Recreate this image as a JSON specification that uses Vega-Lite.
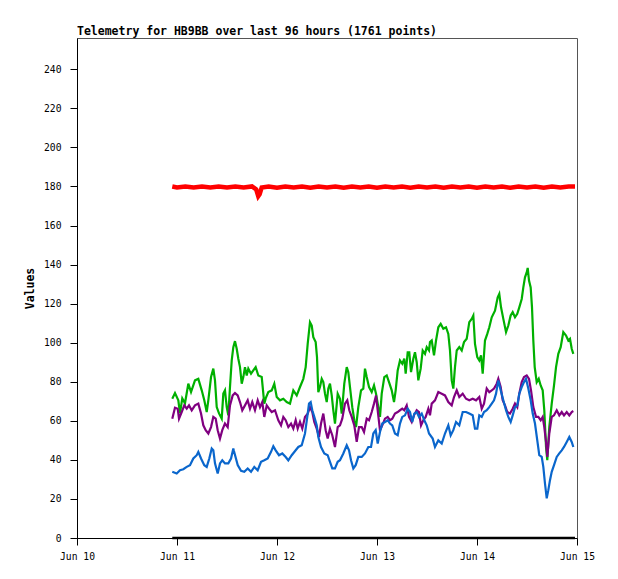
{
  "$schema": "https://vega.github.io/schema/vega-lite/v6.json",
  "title": {
    "text": "Telemetry for HB9BB over last 96 hours (1761 points)",
    "anchor": "start",
    "frame": "group",
    "font": "DejaVu Sans Mono",
    "fontSize": 11.5,
    "fontWeight": "bold",
    "color": "#000000",
    "baseline": "alphabetic",
    "offset": -8.5
  },
  "autosize": "none",
  "padding": {"left": 77, "top": 38, "right": 41, "bottom": 41},
  "width": 500,
  "height": 500,
  "background": "#ffffff",
  "config": {
    "view": {"stroke": "#555555", "strokeWidth": 1},
    "axis": {
      "labelFont": "DejaVu Sans Mono",
      "labelFontSize": 9.7,
      "labelColor": "#000000",
      "titleFont": "DejaVu Sans Mono",
      "titleFontSize": 11.5,
      "titleFontWeight": "bold",
      "titleColor": "#000000",
      "domainColor": "#000000",
      "tickColor": "#000000",
      "tickSize": 7,
      "grid": false
    }
  },
  "datasets": {
    "black": [
      {"t": "2024-06-10T22:52", "v": 0},
      {"t": "2024-06-14T23:31", "v": 0}
    ],
    "red": [
      {"t": "2024-06-10T22:52", "v": 180},
      {"t": "2024-06-11T00:00", "v": 179.5},
      {"t": "2024-06-11T02:00", "v": 180},
      {"t": "2024-06-11T04:00", "v": 179.5},
      {"t": "2024-06-11T06:00", "v": 180},
      {"t": "2024-06-11T08:00", "v": 179.5},
      {"t": "2024-06-11T10:00", "v": 180},
      {"t": "2024-06-11T12:00", "v": 179.5},
      {"t": "2024-06-11T14:00", "v": 180},
      {"t": "2024-06-11T16:00", "v": 179.5},
      {"t": "2024-06-11T18:00", "v": 180},
      {"t": "2024-06-11T19:00", "v": 178.5},
      {"t": "2024-06-11T19:30", "v": 175},
      {"t": "2024-06-11T19:50", "v": 176},
      {"t": "2024-06-11T20:20", "v": 179.5},
      {"t": "2024-06-11T22:00", "v": 180},
      {"t": "2024-06-12T00:00", "v": 179.3},
      {"t": "2024-06-12T02:00", "v": 180},
      {"t": "2024-06-12T04:00", "v": 179.5},
      {"t": "2024-06-12T06:00", "v": 180},
      {"t": "2024-06-12T08:00", "v": 179.3},
      {"t": "2024-06-12T10:00", "v": 180},
      {"t": "2024-06-12T12:00", "v": 179.5},
      {"t": "2024-06-12T14:00", "v": 180},
      {"t": "2024-06-12T16:00", "v": 179.3},
      {"t": "2024-06-12T18:00", "v": 180},
      {"t": "2024-06-12T20:00", "v": 179.5},
      {"t": "2024-06-12T22:00", "v": 180},
      {"t": "2024-06-13T00:00", "v": 179.3},
      {"t": "2024-06-13T02:00", "v": 180},
      {"t": "2024-06-13T04:00", "v": 179.5},
      {"t": "2024-06-13T06:00", "v": 180},
      {"t": "2024-06-13T08:00", "v": 179.3},
      {"t": "2024-06-13T10:00", "v": 180},
      {"t": "2024-06-13T12:00", "v": 179.5},
      {"t": "2024-06-13T14:00", "v": 180},
      {"t": "2024-06-13T16:00", "v": 179.3},
      {"t": "2024-06-13T18:00", "v": 180},
      {"t": "2024-06-13T20:00", "v": 179.5},
      {"t": "2024-06-13T22:00", "v": 180},
      {"t": "2024-06-14T00:00", "v": 179.3},
      {"t": "2024-06-14T02:00", "v": 180},
      {"t": "2024-06-14T04:00", "v": 179.5},
      {"t": "2024-06-14T06:00", "v": 180},
      {"t": "2024-06-14T08:00", "v": 179.3},
      {"t": "2024-06-14T10:00", "v": 180},
      {"t": "2024-06-14T12:00", "v": 179.5},
      {"t": "2024-06-14T14:00", "v": 180},
      {"t": "2024-06-14T16:00", "v": 179.3},
      {"t": "2024-06-14T18:00", "v": 180},
      {"t": "2024-06-14T20:00", "v": 179.5},
      {"t": "2024-06-14T22:00", "v": 180},
      {"t": "2024-06-14T23:31", "v": 180}
    ],
    "green": [
      {"t": "2024-06-10T22:52", "v": 71.3},
      {"t": "2024-06-10T23:31", "v": 74.2},
      {"t": "2024-06-11T00:19", "v": 70.5},
      {"t": "2024-06-11T00:43", "v": 63.8},
      {"t": "2024-06-11T01:16", "v": 71.5},
      {"t": "2024-06-11T01:55", "v": 69},
      {"t": "2024-06-11T02:43", "v": 79},
      {"t": "2024-06-11T03:22", "v": 74.7},
      {"t": "2024-06-11T04:19", "v": 80.7},
      {"t": "2024-06-11T05:07", "v": 81.5},
      {"t": "2024-06-11T05:56", "v": 75.6},
      {"t": "2024-06-11T06:33", "v": 70.5},
      {"t": "2024-06-11T07:08", "v": 64.5},
      {"t": "2024-06-11T07:31", "v": 70.5},
      {"t": "2024-06-11T08:10", "v": 82.4},
      {"t": "2024-06-11T08:43", "v": 86.7},
      {"t": "2024-06-11T09:07", "v": 80.7},
      {"t": "2024-06-11T09:32", "v": 67},
      {"t": "2024-06-11T10:05", "v": 63.8},
      {"t": "2024-06-11T10:44", "v": 61.1},
      {"t": "2024-06-11T11:07", "v": 73.9},
      {"t": "2024-06-11T11:31", "v": 75.6},
      {"t": "2024-06-11T11:56", "v": 67},
      {"t": "2024-06-11T12:19", "v": 62.8},
      {"t": "2024-06-11T12:43", "v": 77.3},
      {"t": "2024-06-11T13:08", "v": 90.9},
      {"t": "2024-06-11T13:31", "v": 97.7},
      {"t": "2024-06-11T13:55", "v": 100.8},
      {"t": "2024-06-11T14:20", "v": 96.9},
      {"t": "2024-06-11T14:43", "v": 91.8},
      {"t": "2024-06-11T15:07", "v": 87.5},
      {"t": "2024-06-11T15:32", "v": 79},
      {"t": "2024-06-11T15:55", "v": 82.4},
      {"t": "2024-06-11T16:19", "v": 87.5},
      {"t": "2024-06-11T16:44", "v": 83.2},
      {"t": "2024-06-11T17:07", "v": 86.7},
      {"t": "2024-06-11T17:46", "v": 84.1},
      {"t": "2024-06-11T18:19", "v": 85.8},
      {"t": "2024-06-11T18:53", "v": 87.5},
      {"t": "2024-06-11T19:31", "v": 83.2},
      {"t": "2024-06-11T20:20", "v": 82.4},
      {"t": "2024-06-11T20:57", "v": 68.8},
      {"t": "2024-06-11T21:17", "v": 71.5},
      {"t": "2024-06-11T21:55", "v": 74.7},
      {"t": "2024-06-11T22:44", "v": 75.6},
      {"t": "2024-06-11T23:21", "v": 79},
      {"t": "2024-06-11T23:56", "v": 72.2},
      {"t": "2024-06-12T00:43", "v": 70.5},
      {"t": "2024-06-12T01:31", "v": 71.3},
      {"t": "2024-06-12T02:20", "v": 69.6},
      {"t": "2024-06-12T03:07", "v": 68.8},
      {"t": "2024-06-12T03:55", "v": 75.6},
      {"t": "2024-06-12T04:44", "v": 73},
      {"t": "2024-06-12T05:31", "v": 77.3},
      {"t": "2024-06-12T06:19", "v": 81.5},
      {"t": "2024-06-12T06:53", "v": 87.5},
      {"t": "2024-06-12T07:22", "v": 99.4},
      {"t": "2024-06-12T07:55", "v": 110.5},
      {"t": "2024-06-12T08:20", "v": 108.8},
      {"t": "2024-06-12T08:43", "v": 102.8},
      {"t": "2024-06-12T09:17", "v": 100.3},
      {"t": "2024-06-12T09:36", "v": 92.6},
      {"t": "2024-06-12T09:55", "v": 74.7},
      {"t": "2024-06-12T10:19", "v": 77.3},
      {"t": "2024-06-12T10:44", "v": 81.5},
      {"t": "2024-06-12T11:07", "v": 79.8},
      {"t": "2024-06-12T11:31", "v": 73.9},
      {"t": "2024-06-12T11:56", "v": 69.6},
      {"t": "2024-06-12T12:19", "v": 76.5},
      {"t": "2024-06-12T12:43", "v": 79},
      {"t": "2024-06-12T13:08", "v": 73},
      {"t": "2024-06-12T13:31", "v": 65.4},
      {"t": "2024-06-12T13:55", "v": 58.6},
      {"t": "2024-06-12T14:34", "v": 73.9},
      {"t": "2024-06-12T15:07", "v": 71.3},
      {"t": "2024-06-12T15:32", "v": 63.7},
      {"t": "2024-06-12T16:09", "v": 79},
      {"t": "2024-06-12T16:44", "v": 87.5},
      {"t": "2024-06-12T17:07", "v": 84.9},
      {"t": "2024-06-12T17:31", "v": 77.3},
      {"t": "2024-06-12T18:04", "v": 67},
      {"t": "2024-06-12T18:33", "v": 60.3},
      {"t": "2024-06-12T18:58", "v": 56.8},
      {"t": "2024-06-12T19:31", "v": 67},
      {"t": "2024-06-12T20:10", "v": 75.6},
      {"t": "2024-06-12T20:43", "v": 76.5},
      {"t": "2024-06-12T21:07", "v": 86.7},
      {"t": "2024-06-12T21:32", "v": 82.4},
      {"t": "2024-06-12T22:05", "v": 77.3},
      {"t": "2024-06-12T22:44", "v": 74.7},
      {"t": "2024-06-12T23:17", "v": 78.1},
      {"t": "2024-06-12T23:46", "v": 73.9},
      {"t": "2024-06-13T00:19", "v": 67},
      {"t": "2024-06-13T00:43", "v": 62},
      {"t": "2024-06-13T01:08", "v": 73.9},
      {"t": "2024-06-13T01:45", "v": 82.4},
      {"t": "2024-06-13T02:20", "v": 83.2},
      {"t": "2024-06-13T02:53", "v": 79.8},
      {"t": "2024-06-13T03:32", "v": 75.6},
      {"t": "2024-06-13T04:05", "v": 69.6},
      {"t": "2024-06-13T04:29", "v": 75.6},
      {"t": "2024-06-13T04:58", "v": 85.8},
      {"t": "2024-06-13T05:31", "v": 90.9},
      {"t": "2024-06-13T06:04", "v": 89.2},
      {"t": "2024-06-13T06:33", "v": 91.8},
      {"t": "2024-06-13T06:53", "v": 84.1},
      {"t": "2024-06-13T07:22", "v": 95.1},
      {"t": "2024-06-13T07:45", "v": 95.1},
      {"t": "2024-06-13T08:10", "v": 84.9},
      {"t": "2024-06-13T08:43", "v": 91.8},
      {"t": "2024-06-13T09:07", "v": 95.1},
      {"t": "2024-06-13T09:32", "v": 90},
      {"t": "2024-06-13T09:55", "v": 80.7},
      {"t": "2024-06-13T10:29", "v": 86.7},
      {"t": "2024-06-13T10:58", "v": 96},
      {"t": "2024-06-13T11:31", "v": 94.3},
      {"t": "2024-06-13T11:56", "v": 97.7},
      {"t": "2024-06-13T12:29", "v": 96},
      {"t": "2024-06-13T12:43", "v": 100.3},
      {"t": "2024-06-13T13:08", "v": 101.1},
      {"t": "2024-06-13T13:41", "v": 93.5},
      {"t": "2024-06-13T14:10", "v": 101.1},
      {"t": "2024-06-13T14:43", "v": 107.9},
      {"t": "2024-06-13T15:17", "v": 109.6},
      {"t": "2024-06-13T15:55", "v": 107.1},
      {"t": "2024-06-13T16:34", "v": 107.9},
      {"t": "2024-06-13T17:07", "v": 104.5},
      {"t": "2024-06-13T17:31", "v": 96},
      {"t": "2024-06-13T17:56", "v": 80.7},
      {"t": "2024-06-13T18:19", "v": 76.5},
      {"t": "2024-06-13T18:43", "v": 87.5},
      {"t": "2024-06-13T19:08", "v": 96},
      {"t": "2024-06-13T19:45", "v": 97.7},
      {"t": "2024-06-13T20:20", "v": 96},
      {"t": "2024-06-13T20:53", "v": 100.3},
      {"t": "2024-06-13T21:32", "v": 102},
      {"t": "2024-06-13T22:09", "v": 110.5},
      {"t": "2024-06-13T22:44", "v": 112.2},
      {"t": "2024-06-13T23:07", "v": 113.9},
      {"t": "2024-06-13T23:31", "v": 99.4},
      {"t": "2024-06-14T00:04", "v": 92.6},
      {"t": "2024-06-14T00:33", "v": 90.9},
      {"t": "2024-06-14T00:58", "v": 93.5},
      {"t": "2024-06-14T01:22", "v": 84.1},
      {"t": "2024-06-14T01:55", "v": 101.1},
      {"t": "2024-06-14T02:28", "v": 104.5},
      {"t": "2024-06-14T02:57", "v": 107.9},
      {"t": "2024-06-14T03:32", "v": 113},
      {"t": "2024-06-14T04:19", "v": 116.4},
      {"t": "2024-06-14T04:58", "v": 123.2},
      {"t": "2024-06-14T05:21", "v": 125},
      {"t": "2024-06-14T05:46", "v": 118.1},
      {"t": "2024-06-14T06:19", "v": 112.2},
      {"t": "2024-06-14T06:58", "v": 105.4},
      {"t": "2024-06-14T07:31", "v": 108.8},
      {"t": "2024-06-14T08:05", "v": 113.9},
      {"t": "2024-06-14T08:34", "v": 115.6},
      {"t": "2024-06-14T09:07", "v": 113},
      {"t": "2024-06-14T09:40", "v": 114.8},
      {"t": "2024-06-14T10:09", "v": 118.1},
      {"t": "2024-06-14T10:44", "v": 122.4},
      {"t": "2024-06-14T11:07", "v": 128.3},
      {"t": "2024-06-14T11:31", "v": 133.5},
      {"t": "2024-06-14T11:56", "v": 136},
      {"t": "2024-06-14T12:10", "v": 138.3},
      {"t": "2024-06-14T12:29", "v": 131.8},
      {"t": "2024-06-14T12:53", "v": 128.3},
      {"t": "2024-06-14T13:12", "v": 118.1},
      {"t": "2024-06-14T13:31", "v": 101.1},
      {"t": "2024-06-14T13:51", "v": 87.5},
      {"t": "2024-06-14T14:20", "v": 79.8},
      {"t": "2024-06-14T14:49", "v": 81.5},
      {"t": "2024-06-14T15:17", "v": 78.1},
      {"t": "2024-06-14T15:46", "v": 75.6},
      {"t": "2024-06-14T16:09", "v": 65.4},
      {"t": "2024-06-14T16:34", "v": 46.6},
      {"t": "2024-06-14T16:52", "v": 39.8},
      {"t": "2024-06-14T17:21", "v": 56.8},
      {"t": "2024-06-14T17:56", "v": 68.8},
      {"t": "2024-06-14T18:29", "v": 78.1},
      {"t": "2024-06-14T18:58", "v": 87.5},
      {"t": "2024-06-14T19:31", "v": 94.3},
      {"t": "2024-06-14T20:05", "v": 97.7},
      {"t": "2024-06-14T20:43", "v": 105.4},
      {"t": "2024-06-14T21:22", "v": 103.7},
      {"t": "2024-06-14T21:55", "v": 101.1},
      {"t": "2024-06-14T22:19", "v": 102},
      {"t": "2024-06-14T22:44", "v": 96.9},
      {"t": "2024-06-14T23:07", "v": 94.3}
    ],
    "purple": [
      {"t": "2024-06-10T22:52", "v": 61.1},
      {"t": "2024-06-10T23:31", "v": 66.7},
      {"t": "2024-06-11T00:10", "v": 66.2},
      {"t": "2024-06-11T00:29", "v": 61.1},
      {"t": "2024-06-11T01:08", "v": 64.5},
      {"t": "2024-06-11T01:45", "v": 67.9},
      {"t": "2024-06-11T02:20", "v": 66.2},
      {"t": "2024-06-11T02:53", "v": 67.9},
      {"t": "2024-06-11T03:32", "v": 65.4},
      {"t": "2024-06-11T04:19", "v": 67.9},
      {"t": "2024-06-11T05:07", "v": 68.8},
      {"t": "2024-06-11T05:46", "v": 63.7},
      {"t": "2024-06-11T06:19", "v": 57.7},
      {"t": "2024-06-11T06:53", "v": 55.2},
      {"t": "2024-06-11T07:31", "v": 53.5},
      {"t": "2024-06-11T08:10", "v": 56.8},
      {"t": "2024-06-11T08:43", "v": 62},
      {"t": "2024-06-11T09:17", "v": 61.1},
      {"t": "2024-06-11T09:46", "v": 55.2},
      {"t": "2024-06-11T10:19", "v": 50.9},
      {"t": "2024-06-11T10:52", "v": 55.2},
      {"t": "2024-06-11T11:31", "v": 58.6},
      {"t": "2024-06-11T12:10", "v": 56.8},
      {"t": "2024-06-11T12:43", "v": 67.9},
      {"t": "2024-06-11T13:22", "v": 73},
      {"t": "2024-06-11T13:55", "v": 74.2},
      {"t": "2024-06-11T14:34", "v": 73},
      {"t": "2024-06-11T15:07", "v": 69.6},
      {"t": "2024-06-11T15:40", "v": 65.4},
      {"t": "2024-06-11T16:19", "v": 67.9},
      {"t": "2024-06-11T16:58", "v": 70.5},
      {"t": "2024-06-11T17:31", "v": 66.2},
      {"t": "2024-06-11T18:04", "v": 69.6},
      {"t": "2024-06-11T18:43", "v": 65.4},
      {"t": "2024-06-11T19:22", "v": 70.5},
      {"t": "2024-06-11T19:55", "v": 67},
      {"t": "2024-06-11T20:28", "v": 69.6},
      {"t": "2024-06-11T20:57", "v": 62},
      {"t": "2024-06-11T21:32", "v": 67.9},
      {"t": "2024-06-11T22:05", "v": 66.2},
      {"t": "2024-06-11T22:44", "v": 64.5},
      {"t": "2024-06-11T23:31", "v": 65.4},
      {"t": "2024-06-12T00:19", "v": 60.3},
      {"t": "2024-06-12T00:58", "v": 57.7},
      {"t": "2024-06-12T01:31", "v": 62},
      {"t": "2024-06-12T02:05", "v": 60.3},
      {"t": "2024-06-12T02:43", "v": 56.8},
      {"t": "2024-06-12T03:22", "v": 58.6},
      {"t": "2024-06-12T03:55", "v": 56},
      {"t": "2024-06-12T04:29", "v": 60.3},
      {"t": "2024-06-12T04:58", "v": 56},
      {"t": "2024-06-12T05:31", "v": 59.4},
      {"t": "2024-06-12T06:04", "v": 56},
      {"t": "2024-06-12T06:43", "v": 62},
      {"t": "2024-06-12T07:22", "v": 63.7},
      {"t": "2024-06-12T07:55", "v": 67},
      {"t": "2024-06-12T08:28", "v": 64.5},
      {"t": "2024-06-12T08:57", "v": 59.4},
      {"t": "2024-06-12T09:32", "v": 56},
      {"t": "2024-06-12T10:05", "v": 51.7},
      {"t": "2024-06-12T10:34", "v": 58.6},
      {"t": "2024-06-12T11:07", "v": 63.7},
      {"t": "2024-06-12T11:41", "v": 55.2},
      {"t": "2024-06-12T12:10", "v": 50.9},
      {"t": "2024-06-12T12:43", "v": 56},
      {"t": "2024-06-12T13:16", "v": 52.6},
      {"t": "2024-06-12T13:55", "v": 46.6},
      {"t": "2024-06-12T14:34", "v": 56.8},
      {"t": "2024-06-12T15:07", "v": 57.7},
      {"t": "2024-06-12T15:40", "v": 61.1},
      {"t": "2024-06-12T16:19", "v": 68.8},
      {"t": "2024-06-12T16:52", "v": 70.5},
      {"t": "2024-06-12T17:21", "v": 65.4},
      {"t": "2024-06-12T17:56", "v": 62},
      {"t": "2024-06-12T18:33", "v": 57.7},
      {"t": "2024-06-12T19:08", "v": 49.2},
      {"t": "2024-06-12T19:41", "v": 56.8},
      {"t": "2024-06-12T20:20", "v": 56.8},
      {"t": "2024-06-12T20:53", "v": 54.3},
      {"t": "2024-06-12T21:32", "v": 61.1},
      {"t": "2024-06-12T22:05", "v": 60.3},
      {"t": "2024-06-12T22:44", "v": 64.5},
      {"t": "2024-06-12T23:17", "v": 68.8},
      {"t": "2024-06-12T23:46", "v": 73},
      {"t": "2024-06-13T00:10", "v": 65.4},
      {"t": "2024-06-13T00:43", "v": 55.2},
      {"t": "2024-06-13T01:16", "v": 57.7},
      {"t": "2024-06-13T01:55", "v": 61.1},
      {"t": "2024-06-13T02:34", "v": 62},
      {"t": "2024-06-13T03:07", "v": 60.3},
      {"t": "2024-06-13T03:40", "v": 61.1},
      {"t": "2024-06-13T04:19", "v": 63.7},
      {"t": "2024-06-13T04:58", "v": 64.5},
      {"t": "2024-06-13T05:31", "v": 65.4},
      {"t": "2024-06-13T06:04", "v": 66.2},
      {"t": "2024-06-13T06:33", "v": 65.4},
      {"t": "2024-06-13T07:08", "v": 67.9},
      {"t": "2024-06-13T07:41", "v": 62},
      {"t": "2024-06-13T08:20", "v": 59.4},
      {"t": "2024-06-13T08:53", "v": 62.8},
      {"t": "2024-06-13T09:32", "v": 65.4},
      {"t": "2024-06-13T10:05", "v": 64.5},
      {"t": "2024-06-13T10:34", "v": 57.7},
      {"t": "2024-06-13T11:07", "v": 60.3},
      {"t": "2024-06-13T11:41", "v": 62},
      {"t": "2024-06-13T12:19", "v": 66.2},
      {"t": "2024-06-13T12:43", "v": 62.8},
      {"t": "2024-06-13T13:08", "v": 68.8},
      {"t": "2024-06-13T13:55", "v": 70.5},
      {"t": "2024-06-13T14:43", "v": 74.7},
      {"t": "2024-06-13T15:32", "v": 73.9},
      {"t": "2024-06-13T16:19", "v": 73},
      {"t": "2024-06-13T17:07", "v": 69.6},
      {"t": "2024-06-13T17:56", "v": 67.9},
      {"t": "2024-06-13T18:29", "v": 72.2},
      {"t": "2024-06-13T19:08", "v": 75.6},
      {"t": "2024-06-13T19:45", "v": 72.2},
      {"t": "2024-06-13T20:34", "v": 73.9},
      {"t": "2024-06-13T21:22", "v": 71.3},
      {"t": "2024-06-13T22:09", "v": 70.5},
      {"t": "2024-06-13T22:58", "v": 71.3},
      {"t": "2024-06-13T23:46", "v": 70.5},
      {"t": "2024-06-14T00:33", "v": 72.2},
      {"t": "2024-06-14T01:08", "v": 66.2},
      {"t": "2024-06-14T01:41", "v": 68.8},
      {"t": "2024-06-14T02:20", "v": 76.5},
      {"t": "2024-06-14T02:57", "v": 74.7},
      {"t": "2024-06-14T03:32", "v": 75.6},
      {"t": "2024-06-14T04:05", "v": 76.5},
      {"t": "2024-06-14T04:44", "v": 79},
      {"t": "2024-06-14T05:07", "v": 81.5},
      {"t": "2024-06-14T05:41", "v": 77.3},
      {"t": "2024-06-14T06:10", "v": 70.5},
      {"t": "2024-06-14T06:43", "v": 67.9},
      {"t": "2024-06-14T07:16", "v": 64.5},
      {"t": "2024-06-14T07:55", "v": 63.7},
      {"t": "2024-06-14T08:34", "v": 66.2},
      {"t": "2024-06-14T09:07", "v": 68.8},
      {"t": "2024-06-14T09:40", "v": 67},
      {"t": "2024-06-14T10:09", "v": 73.9},
      {"t": "2024-06-14T10:44", "v": 79.8},
      {"t": "2024-06-14T11:17", "v": 82.4},
      {"t": "2024-06-14T11:56", "v": 83.2},
      {"t": "2024-06-14T12:29", "v": 81.5},
      {"t": "2024-06-14T12:58", "v": 75.6},
      {"t": "2024-06-14T13:31", "v": 67},
      {"t": "2024-06-14T14:10", "v": 62},
      {"t": "2024-06-14T14:43", "v": 62},
      {"t": "2024-06-14T15:17", "v": 60.3},
      {"t": "2024-06-14T15:46", "v": 62},
      {"t": "2024-06-14T16:09", "v": 56.8},
      {"t": "2024-06-14T16:34", "v": 49.2},
      {"t": "2024-06-14T16:52", "v": 41.5},
      {"t": "2024-06-14T17:21", "v": 53.5},
      {"t": "2024-06-14T17:56", "v": 62},
      {"t": "2024-06-14T18:29", "v": 62.8},
      {"t": "2024-06-14T19:08", "v": 65.4},
      {"t": "2024-06-14T19:45", "v": 62.8},
      {"t": "2024-06-14T20:20", "v": 64.5},
      {"t": "2024-06-14T20:53", "v": 62.8},
      {"t": "2024-06-14T21:32", "v": 64.5},
      {"t": "2024-06-14T22:09", "v": 62.8},
      {"t": "2024-06-14T22:44", "v": 64.5},
      {"t": "2024-06-14T23:07", "v": 65}
    ],
    "blue": [
      {"t": "2024-06-10T22:52", "v": 33.9},
      {"t": "2024-06-10T23:56", "v": 33},
      {"t": "2024-06-11T00:43", "v": 34.7},
      {"t": "2024-06-11T01:31", "v": 35.2},
      {"t": "2024-06-11T02:20", "v": 36.4},
      {"t": "2024-06-11T03:07", "v": 37.3},
      {"t": "2024-06-11T03:55", "v": 40.7},
      {"t": "2024-06-11T04:44", "v": 42.4},
      {"t": "2024-06-11T05:07", "v": 44.1},
      {"t": "2024-06-11T05:46", "v": 40.7},
      {"t": "2024-06-11T06:33", "v": 37.3},
      {"t": "2024-06-11T07:08", "v": 36.4},
      {"t": "2024-06-11T07:45", "v": 40.7},
      {"t": "2024-06-11T08:20", "v": 45.8},
      {"t": "2024-06-11T08:43", "v": 44.9},
      {"t": "2024-06-11T09:07", "v": 38.2},
      {"t": "2024-06-11T09:46", "v": 33},
      {"t": "2024-06-11T10:19", "v": 38.2},
      {"t": "2024-06-11T10:52", "v": 39.8},
      {"t": "2024-06-11T11:31", "v": 38.2},
      {"t": "2024-06-11T12:19", "v": 38.2},
      {"t": "2024-06-11T12:58", "v": 40.7},
      {"t": "2024-06-11T13:31", "v": 45.8},
      {"t": "2024-06-11T13:37", "v": 44.9},
      {"t": "2024-06-11T14:34", "v": 37.3},
      {"t": "2024-06-11T15:22", "v": 34.4},
      {"t": "2024-06-11T16:09", "v": 33.9},
      {"t": "2024-06-11T16:58", "v": 35.6},
      {"t": "2024-06-11T17:46", "v": 33.9},
      {"t": "2024-06-11T18:33", "v": 36.4},
      {"t": "2024-06-11T19:22", "v": 34.7},
      {"t": "2024-06-11T20:10", "v": 39},
      {"t": "2024-06-11T20:57", "v": 39.8},
      {"t": "2024-06-11T21:46", "v": 40.7},
      {"t": "2024-06-11T22:34", "v": 44.1},
      {"t": "2024-06-11T23:07", "v": 47},
      {"t": "2024-06-11T23:41", "v": 44.9},
      {"t": "2024-06-12T00:29", "v": 42.4},
      {"t": "2024-06-12T01:16", "v": 43.3},
      {"t": "2024-06-12T02:05", "v": 41.5},
      {"t": "2024-06-12T02:43", "v": 39.8},
      {"t": "2024-06-12T03:32", "v": 42.4},
      {"t": "2024-06-12T04:29", "v": 44.9},
      {"t": "2024-06-12T05:07", "v": 46.6},
      {"t": "2024-06-12T05:56", "v": 47.5},
      {"t": "2024-06-12T06:43", "v": 53.5},
      {"t": "2024-06-12T07:16", "v": 62},
      {"t": "2024-06-12T07:41", "v": 68.8},
      {"t": "2024-06-12T08:05", "v": 69.6},
      {"t": "2024-06-12T08:28", "v": 65.4},
      {"t": "2024-06-12T08:57", "v": 62},
      {"t": "2024-06-12T09:32", "v": 57.7},
      {"t": "2024-06-12T09:55", "v": 51.7},
      {"t": "2024-06-12T10:34", "v": 46.6},
      {"t": "2024-06-12T11:21", "v": 43.3},
      {"t": "2024-06-12T12:10", "v": 42.4},
      {"t": "2024-06-12T12:43", "v": 39},
      {"t": "2024-06-12T13:16", "v": 35.6},
      {"t": "2024-06-12T13:55", "v": 35.6},
      {"t": "2024-06-12T14:34", "v": 39},
      {"t": "2024-06-12T15:07", "v": 39.8},
      {"t": "2024-06-12T15:55", "v": 43.3},
      {"t": "2024-06-12T16:44", "v": 47.5},
      {"t": "2024-06-12T17:17", "v": 44.9},
      {"t": "2024-06-12T17:46", "v": 39.8},
      {"t": "2024-06-12T18:19", "v": 35.6},
      {"t": "2024-06-12T18:53", "v": 37.3},
      {"t": "2024-06-12T19:31", "v": 41.5},
      {"t": "2024-06-12T20:20", "v": 41.5},
      {"t": "2024-06-12T21:07", "v": 43.3},
      {"t": "2024-06-12T21:55", "v": 46.6},
      {"t": "2024-06-12T22:34", "v": 46.6},
      {"t": "2024-06-12T23:07", "v": 53.5},
      {"t": "2024-06-12T23:41", "v": 55.2},
      {"t": "2024-06-13T00:10", "v": 48.4},
      {"t": "2024-06-13T00:43", "v": 54.3},
      {"t": "2024-06-13T01:16", "v": 58.6},
      {"t": "2024-06-13T01:55", "v": 59.4},
      {"t": "2024-06-13T02:34", "v": 60.3},
      {"t": "2024-06-13T03:07", "v": 58.6},
      {"t": "2024-06-13T03:40", "v": 57.7},
      {"t": "2024-06-13T04:19", "v": 53.5},
      {"t": "2024-06-13T04:58", "v": 52.6},
      {"t": "2024-06-13T05:31", "v": 58.6},
      {"t": "2024-06-13T06:04", "v": 62},
      {"t": "2024-06-13T06:43", "v": 62.8},
      {"t": "2024-06-13T07:22", "v": 66.2},
      {"t": "2024-06-13T07:55", "v": 64.5},
      {"t": "2024-06-13T08:28", "v": 59.4},
      {"t": "2024-06-13T08:57", "v": 63.7},
      {"t": "2024-06-13T09:32", "v": 64.5},
      {"t": "2024-06-13T10:05", "v": 62},
      {"t": "2024-06-13T10:44", "v": 63.7},
      {"t": "2024-06-13T11:21", "v": 60.3},
      {"t": "2024-06-13T11:56", "v": 57.7},
      {"t": "2024-06-13T12:29", "v": 53.5},
      {"t": "2024-06-13T13:22", "v": 50.9},
      {"t": "2024-06-13T13:55", "v": 46.6},
      {"t": "2024-06-13T14:43", "v": 50},
      {"t": "2024-06-13T15:32", "v": 48.4},
      {"t": "2024-06-13T16:19", "v": 53.5},
      {"t": "2024-06-13T17:07", "v": 57.7},
      {"t": "2024-06-13T17:41", "v": 52.6},
      {"t": "2024-06-13T18:19", "v": 55.2},
      {"t": "2024-06-13T18:58", "v": 59.4},
      {"t": "2024-06-13T19:45", "v": 57.7},
      {"t": "2024-06-13T20:34", "v": 64.5},
      {"t": "2024-06-13T21:22", "v": 64.5},
      {"t": "2024-06-13T22:09", "v": 63.7},
      {"t": "2024-06-13T22:58", "v": 62.8},
      {"t": "2024-06-13T23:31", "v": 56},
      {"t": "2024-06-14T00:04", "v": 56},
      {"t": "2024-06-14T00:33", "v": 62.8},
      {"t": "2024-06-14T01:08", "v": 62},
      {"t": "2024-06-14T01:41", "v": 64.5},
      {"t": "2024-06-14T02:20", "v": 65.4},
      {"t": "2024-06-14T02:57", "v": 67},
      {"t": "2024-06-14T03:32", "v": 68.8},
      {"t": "2024-06-14T04:05", "v": 70.5},
      {"t": "2024-06-14T04:34", "v": 73.9},
      {"t": "2024-06-14T05:07", "v": 80.7},
      {"t": "2024-06-14T05:41", "v": 75.6},
      {"t": "2024-06-14T06:19", "v": 70.5},
      {"t": "2024-06-14T06:58", "v": 65.4},
      {"t": "2024-06-14T07:31", "v": 62},
      {"t": "2024-06-14T08:05", "v": 59.4},
      {"t": "2024-06-14T08:34", "v": 62.8},
      {"t": "2024-06-14T09:07", "v": 67},
      {"t": "2024-06-14T09:40", "v": 67.9},
      {"t": "2024-06-14T10:09", "v": 73.9},
      {"t": "2024-06-14T10:44", "v": 77.3},
      {"t": "2024-06-14T11:17", "v": 79.8},
      {"t": "2024-06-14T11:46", "v": 81.5},
      {"t": "2024-06-14T12:19", "v": 76.5},
      {"t": "2024-06-14T12:53", "v": 70.5},
      {"t": "2024-06-14T13:22", "v": 63.7},
      {"t": "2024-06-14T13:55", "v": 58.6},
      {"t": "2024-06-14T14:28", "v": 50},
      {"t": "2024-06-14T14:57", "v": 42.4},
      {"t": "2024-06-14T15:32", "v": 41.5},
      {"t": "2024-06-14T15:55", "v": 36.4},
      {"t": "2024-06-14T16:19", "v": 27.9},
      {"t": "2024-06-14T16:44", "v": 20.3},
      {"t": "2024-06-14T17:07", "v": 24.5},
      {"t": "2024-06-14T17:31", "v": 29.6},
      {"t": "2024-06-14T17:56", "v": 33.9},
      {"t": "2024-06-14T18:29", "v": 37.3},
      {"t": "2024-06-14T19:08", "v": 41.5},
      {"t": "2024-06-14T19:45", "v": 43.3},
      {"t": "2024-06-14T20:20", "v": 44.9},
      {"t": "2024-06-14T20:53", "v": 46.6},
      {"t": "2024-06-14T21:32", "v": 49.2},
      {"t": "2024-06-14T22:09", "v": 51.7},
      {"t": "2024-06-14T22:44", "v": 49.2},
      {"t": "2024-06-14T23:07", "v": 46.6}
    ]
  },
  "encoding": {
    "x": {
      "field": "t",
      "type": "temporal",
      "title": null,
      "scale": {
        "domain": [
          {"year": 2024, "month": 6, "date": 10},
          {"year": 2024, "month": 6, "date": 15}
        ]
      },
      "axis": {
        "format": "%b %d",
        "values": [
          {"year": 2024, "month": 6, "date": 10},
          {"year": 2024, "month": 6, "date": 11},
          {"year": 2024, "month": 6, "date": 12},
          {"year": 2024, "month": 6, "date": 13},
          {"year": 2024, "month": 6, "date": 14},
          {"year": 2024, "month": 6, "date": 15}
        ],
        "labelPadding": 6,
        "labelFlush": false,
        "labelOverlap": false
      }
    },
    "y": {
      "field": "v",
      "type": "quantitative",
      "title": "Values",
      "scale": {"domain": [0, 256], "nice": false},
      "axis": {
        "values": [0, 20, 40, 60, 80, 100, 120, 140, 160, 180, 200, 220, 240],
        "labelPadding": 9,
        "titlePadding": 8,
        "labelFlush": false
      }
    }
  },
  "layer": [
    {
      "data": {"name": "red"},
      "mark": {"type": "line", "color": "#ff0000", "strokeWidth": 4.5}
    },
    {
      "data": {"name": "green"},
      "mark": {"type": "line", "color": "#00b000", "strokeWidth": 2.2}
    },
    {
      "data": {"name": "purple"},
      "mark": {"type": "line", "color": "#800080", "strokeWidth": 2.2}
    },
    {
      "data": {"name": "blue"},
      "mark": {"type": "line", "color": "#0a66cc", "strokeWidth": 2.2}
    },
    {
      "data": {"name": "black"},
      "mark": {"type": "line", "color": "#000000", "strokeWidth": 2.5}
    }
  ]
}
